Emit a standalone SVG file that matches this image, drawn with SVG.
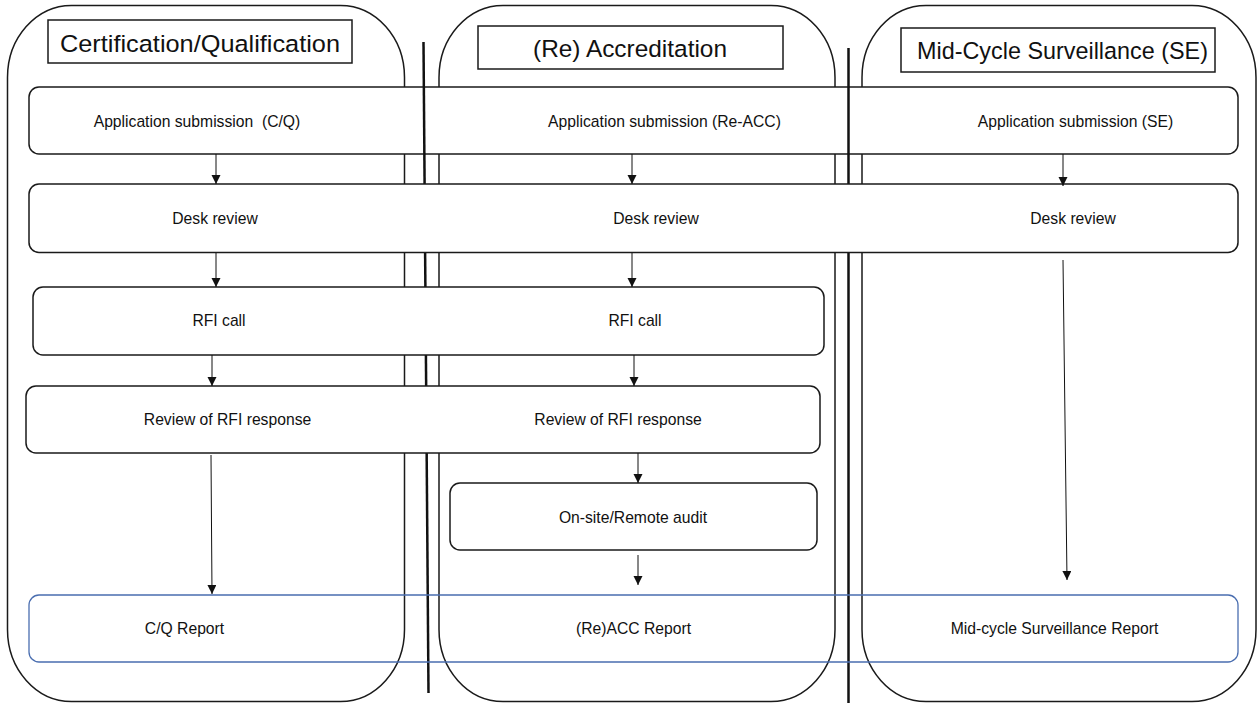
<svg xmlns="http://www.w3.org/2000/svg" width="1258" height="705" viewBox="0 0 1258 705">
<style>
.lane{fill:#fff;stroke:#1a1a1a;stroke-width:1.5}
.box{fill:#fff;stroke:#1a1a1a;stroke-width:1.5}
.title{fill:#fff;stroke:#1a1a1a;stroke-width:1.5}
.sep{stroke:#111;stroke-width:2.5;fill:none}
.rep{fill:none;stroke:#4a6eb0;stroke-width:1.3}
.tt{font-family:"Liberation Sans",Arial,sans-serif;font-size:24.5px;fill:#111;text-anchor:middle}
.lb{font-family:"Liberation Sans",Arial,sans-serif;font-size:15.7px;fill:#111;text-anchor:middle;white-space:pre}
.arr{stroke:#111;stroke-width:1;fill:none;marker-end:url(#ah)}
</style>
<defs>
<marker id="ah" markerUnits="userSpaceOnUse" markerWidth="10" markerHeight="10" refX="9" refY="4.5" orient="auto">
<path d="M0,0 L9,4.5 L0,9 z" fill="#111"/>
</marker>
</defs>
<rect width="1258" height="705" fill="#fff"/>
<g id="lane-cq">
<rect class="lane" x="7.5" y="5.5" width="397" height="696" rx="64" ry="72"/>
<rect class="title" x="48" y="20" width="304" height="43"/>
<text class="tt" x="200" y="52" textLength="280" lengthAdjust="spacingAndGlyphs">Certification/Qualification</text>
</g>
<g id="lane-reacc">
<rect class="lane" x="439" y="5.5" width="396" height="696" rx="64" ry="72"/>
<rect class="title" x="478" y="26" width="305" height="43"/>
<text class="tt" x="630" y="57" textLength="194" lengthAdjust="spacingAndGlyphs">(Re) Accreditation</text>
</g>
<g id="lane-se">
<rect class="lane" x="862" y="5.5" width="394" height="696" rx="64" ry="72"/>
<rect class="title" x="901" y="28" width="314" height="44"/>
<text class="tt" x="1062.5" y="59" textLength="291" lengthAdjust="spacingAndGlyphs">Mid-Cycle Surveillance (SE)</text>
</g>
<g id="app-submission">
<rect class="box" x="29" y="87" width="1209" height="67" rx="10"/>
<text class="lb" x="197" y="127">Application submission  (C/Q)</text>
<text class="lb" x="664.5" y="127">Application submission (Re-ACC)</text>
<text class="lb" x="1075.5" y="127">Application submission (SE)</text>
</g>
<g id="separators">
<line class="sep" x1="423.5" y1="42" x2="428.5" y2="693"/>
<line class="sep" x1="848.5" y1="48" x2="848.5" y2="703"/>
</g>
<g id="desk-review">
<rect class="box" x="29" y="184" width="1209" height="68.5" rx="10"/>
<text class="lb" x="215" y="224">Desk review</text>
<text class="lb" x="656" y="224">Desk review</text>
<text class="lb" x="1073" y="224">Desk review</text>
</g>
<g id="rfi-call">
<rect class="box" x="33" y="287" width="791" height="68" rx="10"/>
<text class="lb" x="219" y="326">RFI call</text>
<text class="lb" x="635" y="326">RFI call</text>
</g>
<g id="review-rfi">
<rect class="box" x="26" y="386" width="794" height="67" rx="10"/>
<text class="lb" x="227.5" y="425">Review of RFI response</text>
<text class="lb" x="618" y="425">Review of RFI response</text>
</g>
<g id="onsite-audit">
<rect class="box" x="450" y="483" width="367" height="67" rx="10"/>
<text class="lb" x="633" y="523">On-site/Remote audit</text>
</g>
<g id="reports">
<rect class="rep" x="29" y="595" width="1209" height="67" rx="10"/>
<text class="lb" x="184.5" y="634">C/Q Report</text>
<text class="lb" x="633.5" y="634">(Re)ACC Report</text>
<text class="lb" x="1054.5" y="634">Mid-cycle Surveillance Report</text>
</g>
<g id="connectors">
<line class="arr" x1="216" y1="154" x2="216" y2="184"/>
<line class="arr" x1="216" y1="253" x2="216" y2="287"/>
<line class="arr" x1="212" y1="355" x2="212" y2="386"/>
<line class="arr" x1="211" y1="455" x2="212" y2="594"/>
<line class="arr" x1="632" y1="154" x2="632" y2="184"/>
<line class="arr" x1="632" y1="253" x2="632" y2="287"/>
<line class="arr" x1="634" y1="355" x2="634" y2="386"/>
<line class="arr" x1="638" y1="453" x2="638" y2="483"/>
<line class="arr" x1="638" y1="555" x2="638" y2="585"/>
<line class="arr" x1="1063" y1="154" x2="1063" y2="186"/>
<line class="arr" x1="1063" y1="260" x2="1067" y2="580"/>
</g>
</svg>
